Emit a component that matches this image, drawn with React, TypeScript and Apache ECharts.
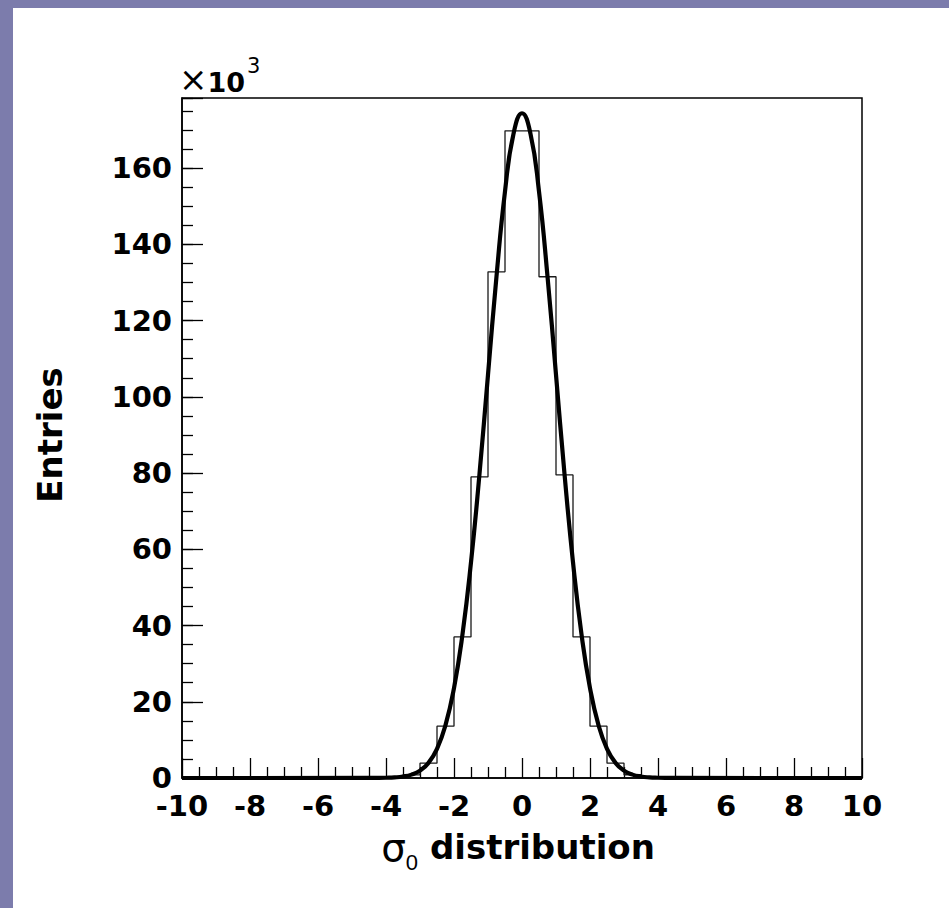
import React, { useEffect, useRef } from 'react';
import * as echarts from 'echarts';

// Histogram bin edges (sigma_0) and bin contents (entries)
const binEdges = [
  -10, -9.5, -9, -8.5, -8, -7.5, -7, -6.5, -6, -5.5, -5, -4.5, -4, -3.5, -3, -2.5, -2, -1.5, -1, -0.5,
  0, 0.5, 1, 1.5, 2, 2.5, 3, 3.5, 4, 4.5, 5, 5.5, 6, 6.5, 7, 7.5, 8, 8.5, 9, 9.5, 10,
];
const binCounts = [
  0, 0, 0, 0, 0, 0, 0, 0, 0, 0, 0,
  20, 140, 800, 3900, 13600, 37000, 79000, 132800, 169800,
  169800, 131500, 79500, 37000, 13600, 3900, 850, 150, 20,
  0, 0, 0, 0, 0, 0, 0, 0, 0, 0, 0, 0,
];

// Fitted gaussian curve
const fitX = [
  -10, -4.5, -4.25, -4, -3.75, -3.5, -3.25, -3, -2.75, -2.5, -2.25, -2, -1.75, -1.5, -1.25, -1, -0.75, -0.5, -0.25,
  0, 0.25, 0.5, 0.75, 1, 1.25, 1.5, 1.75, 2, 2.25, 2.5, 2.75, 3, 3.25, 3.5, 3.75, 4, 4.25, 4.5, 10,
];
const fitY = [
  0, 10, 20, 60, 150, 380, 890, 1940, 3970, 7660, 13880, 23600, 37700, 56600, 79800, 105800, 131600, 153900, 169000,
  174400, 169000, 153900, 131600, 105800, 79800, 56600, 37700, 23600, 13880, 7660, 3970, 1940, 890, 380, 150, 60, 20, 10, 0,
];

// Axis settings
const xMin = -10;
const xMax = 10;
const xStep = 2;
const yMax = 178400;
const yMajorStep = 20000;
const yMinorStep = 5000;
const yScaleLabel = '×10³';

const FRAME_COLOR = '#7C7CAC';
const FONT = "'DejaVu Sans', sans-serif";

export default function App() {
  const ref = useRef<HTMLDivElement>(null);

  useEffect(() => {
    if (!ref.current) return;
    const chart = echarts.init(ref.current, undefined, { renderer: 'svg' });

    const histData: number[][] = binCounts.map((c, i) => [binEdges[i], c]);
    histData.push([binEdges[binEdges.length - 1], binCounts[binCounts.length - 1]]);
    const fitData = fitX.map((x, i) => [x, fitY[i]]);

    const tickLine = { color: '#000', width: 1.3 };

    const option: any = {
      animation: false,
      backgroundColor: '#ffffff',
      grid: {
        left: 182,
        top: 98,
        width: 680,
        height: 680,
        show: true,
        borderColor: '#000',
        borderWidth: 1.5,
        backgroundColor: '#ffffff',
      },
      xAxis: [
        {
          type: 'value',
          position: 'bottom',
          min: xMin,
          max: xMax,
          interval: xStep,
          axisLine: { show: true, onZero: false, lineStyle: { color: '#000', width: 1.5 } },
          axisTick: { show: true, inside: true, length: 20, lineStyle: tickLine },
          minorTick: { show: true, splitNumber: 4, length: 11, lineStyle: tickLine },
          splitLine: { show: false },
          minorSplitLine: { show: false },
          axisLabel: {
            show: true,
            margin: 13,
            color: '#000',
            fontFamily: FONT,
            fontWeight: 'bold',
            fontSize: 29,
          },
          name: '{s|σ}{sub|0}{b| distribution}',
          nameLocation: 'middle',
          nameGap: 43,
          nameTextStyle: {
            color: '#000',
            padding: [0, 8, 0, 0],
            rich: {
              s: { fontFamily: FONT, fontSize: 39, lineHeight: 52, verticalAlign: 'middle', color: '#000' },
              sub: {
                fontFamily: "'Liberation Sans Narrow', 'Liberation Sans', sans-serif",
                fontSize: 22,
                lineHeight: 22,
                verticalAlign: 'bottom',
                color: '#000',
              },
              b: {
                fontFamily: FONT,
                fontWeight: 'bold',
                fontSize: 34,
                lineHeight: 52,
                verticalAlign: 'middle',
                color: '#000',
              },
            },
          },
        },
      ],
      yAxis: [
        {
          type: 'value',
          position: 'left',
          min: 0,
          max: yMax,
          interval: yMajorStep,
          axisLine: { show: true, onZero: false, lineStyle: { color: '#000', width: 1.5 } },
          axisTick: { show: true, inside: true, length: 21, lineStyle: tickLine },
          splitLine: { show: false },
          axisLabel: {
            show: true,
            margin: 10,
            color: '#000',
            fontFamily: FONT,
            fontWeight: 'bold',
            fontSize: 29,
            padding: [6, 0, 0, 0],
            formatter: (v: number) => (v % yMajorStep === 0 ? String(v / 1000) : ''),
          },
        },
        {
          type: 'value',
          position: 'left',
          min: 0,
          max: yMax,
          interval: yMinorStep,
          axisLine: { show: false, onZero: false },
          axisTick: { show: true, inside: true, length: 11, lineStyle: tickLine },
          splitLine: { show: false },
          axisLabel: { show: false },
        },
      ],
      series: [
        {
          type: 'line',
          name: 'histogram',
          xAxisIndex: 0,
          yAxisIndex: 0,
          data: histData,
          step: 'end',
          symbol: 'none',
          clip: false,
          lineStyle: { color: '#1a1a1a', width: 1.3 },
          z: 2,
        },
        {
          type: 'line',
          name: 'fit',
          xAxisIndex: 0,
          yAxisIndex: 0,
          data: fitData,
          smooth: 0.5,
          symbol: 'none',
          clip: false,
          lineStyle: { color: '#000', width: 4.2 },
          z: 3,
        },
      ],
      graphic: [
        {
          type: 'rect',
          silent: true,
          shape: { x: 0, y: 0, width: 949, height: 8 },
          style: { fill: FRAME_COLOR },
        },
        {
          type: 'rect',
          silent: true,
          shape: { x: 0, y: 0, width: 13, height: 908 },
          style: { fill: FRAME_COLOR },
        },
        {
          type: 'text',
          silent: true,
          x: 50,
          y: 435,
          rotation: Math.PI / 2,
          style: {
            text: 'Entries',
            fill: '#000',
            font: `bold 34px ${FONT}`,
            align: 'center',
            verticalAlign: 'middle',
            textAlign: 'center',
            textVerticalAlign: 'middle',
          },
        },
        {
          type: 'text',
          silent: true,
          x: 179,
          y: 55.5,
          style: {
            text: '{x|×}{b|10}{sup|3}',
            fill: '#000',
            align: 'left',
            verticalAlign: 'top',
            rich: {
              x: {
                fontFamily: FONT,
                fontSize: 34,
                lineHeight: 30,
                verticalAlign: 'bottom',
                fill: '#000',
              },
              b: { fontFamily: FONT, fontWeight: 'bold', fontSize: 27, lineHeight: 40, verticalAlign: 'bottom', fill: '#000' },
              sup: {
                fontFamily: FONT,
                fontSize: 21,
                lineHeight: 11,
                padding: [0, 0, 0, 2],
                verticalAlign: 'top',
                fill: '#000',
              },
            },
          },
        },
      ],
    };

    chart.setOption(option);
    return () => chart.dispose();
  }, []);

  return (
    <div
      ref={ref}
      aria-label={`sigma_0 distribution histogram, y axis in units of ${yScaleLabel}`}
      style={{ position: 'fixed', left: 0, top: 0, width: 949, height: 908, background: '#fff' }}
    />
  );
}
